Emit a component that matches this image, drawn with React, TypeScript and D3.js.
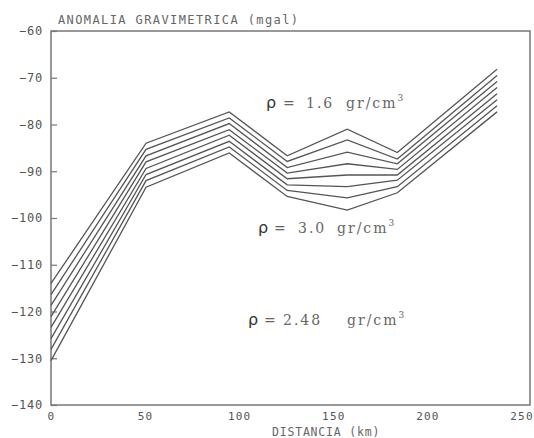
import React from "react";
import * as d3 from "d3";

// distance (km) of each profile vertex
const distances = [0, 50.5, 94.7, 125.5, 157.4, 184, 237];

// basin densities (gr/cm3), one curve each, top to bottom
const densities = [1.6, 1.8, 2.0, 2.2, 2.4, 2.6, 2.8, 3.0];

// gravity anomaly (mgal) at each vertex, per density
const rho16 = [-114.0, -84.0, -77.3, -86.7, -81.0, -86.0, -68.2];
const rho18 = [-116.4, -85.3, -78.6, -87.9, -83.3, -87.4, -69.5];
const rho20 = [-118.7, -86.7, -79.8, -89.2, -85.9, -88.4, -70.8];
const rho22 = [-121.1, -88.0, -81.1, -90.4, -88.4, -89.6, -72.1];
const rho24 = [-123.4, -89.4, -82.3, -91.6, -90.8, -90.8, -73.4];
const rho26 = [-125.8, -90.7, -83.6, -92.9, -93.3, -91.9, -74.7];
const rho28 = [-128.1, -92.0, -84.8, -94.1, -95.7, -93.3, -76.0];
const rho30 = [-130.5, -93.4, -86.1, -95.4, -98.3, -94.6, -77.3];
const curves = [rho16, rho18, rho20, rho22, rho24, rho26, rho28, rho30];

const xTicks = [0, 50, 100, 150, 200, 250];
const yTicks = [-140, -130, -120, -110, -100, -90, -80, -70, -60];

const yTitle = "ANOMALIA GRAVIMETRICA (mgal)";
const xTitle = "DISTANCIA (km)";

const W = 534;
const H = 438;
const M = { left: 51, right: 4, top: 31, bottom: 33 };

const MONO = "'DejaVu Sans Mono', monospace";
const TYPE = "'DejaVu Serif', 'Liberation Serif', serif";

const App = () => {
  const ref = React.useRef<SVGSVGElement>(null);

  React.useEffect(() => {
    const svg = d3.select(ref.current);
    svg.selectAll("*").remove();

    const x = d3.scaleLinear().domain([0, 254.5]).range([M.left, W - M.right]);
    const y = d3.scaleLinear().domain([-140, -60]).range([H - M.bottom, M.top]);

    // frame
    svg.append("rect")
      .attr("x", x(0)).attr("y", y(-60))
      .attr("width", x(254.5) - x(0)).attr("height", y(-140) - y(-60))
      .attr("fill", "none").attr("stroke", "#777").attr("stroke-width", 1.5);

    // y axis, ticks pointing inwards
    const gy = svg.append("g")
      .attr("transform", `translate(${x(0)},0)`)
      .call(d3.axisLeft(y).tickValues(yTicks).tickSize(-6).tickPadding(8)
        .tickFormat(d => String(d).replace("-", "\u2212")));
    gy.select(".domain").remove();
    gy.selectAll("line").attr("stroke", "#777").attr("stroke-width", 1.2);
    gy.selectAll("text")
      .attr("font-family", MONO).attr("font-size", 12)
      .attr("letter-spacing", 0.8).attr("fill", "#555");

    const gx = svg.append("g")
      .attr("transform", `translate(0,${y(-140)})`)
      .call(d3.axisBottom(x).tickValues(xTicks).tickSize(0).tickPadding(7));
    gx.select(".domain").remove();
    gx.selectAll("text")
      .attr("font-family", MONO).attr("font-size", 11)
      .attr("letter-spacing", 1.2).attr("fill", "#555");

    // titles
    svg.append("text")
      .attr("x", 58).attr("y", 24)
      .attr("font-family", MONO).attr("font-size", 12)
      .attr("letter-spacing", 1.4).attr("fill", "#666")
      .text(yTitle);
    svg.append("text")
      .attr("x", 272).attr("y", 436)
      .attr("font-family", MONO).attr("font-size", 11.5)
      .attr("letter-spacing", 0.8).attr("fill", "#666")
      .text(xTitle);

    // curves
    const line = d3.line<number>()
      .x((_, i) => x(distances[i]))
      .y(d => y(d));
    svg.append("g")
      .selectAll("path")
      .data(curves)
      .join("path")
        .attr("d", d => line(d))
        .attr("data-rho", (_, i) => densities[i])
        .attr("fill", "none")
        .attr("stroke", "#555")
        .attr("stroke-width", 1.3)
        .attr("stroke-linejoin", "miter");

    // density annotations
    const notes = [
      { v: "1.6", base: 108, px: [266, 283, 306, 346] },
      { v: "3.0", base: 233, px: [258, 274, 298, 337] },
      { v: "2.48", base: 325, px: [248, 264, 283, 347] },
    ];
    notes.forEach(n => {
      const t = svg.append("text")
        .attr("y", n.base)
        .attr("font-family", TYPE).attr("font-size", 14)
        .attr("letter-spacing", 2)
        .attr("fill", "#666");
      t.append("tspan").attr("x", n.px[0]).attr("fill", "#333")
        .attr("font-family", "'DejaVu Sans', sans-serif").attr("font-size", 16)
        .attr("letter-spacing", 0)
        .text("\u03c1");
      t.append("tspan").attr("x", n.px[1]).text("=");
      t.append("tspan").attr("x", n.px[2]).text(n.v);
      t.append("tspan").attr("x", n.px[3]).text("gr/cm");
      t.append("tspan").attr("dy", -7).attr("font-size", 9).text("3");
    });
  }, []);

  return (
    <svg ref={ref} width={W} height={H}
      style={{ position: "absolute", left: 0, top: 0, background: "#fff" }} />
  );
};

export default App;
